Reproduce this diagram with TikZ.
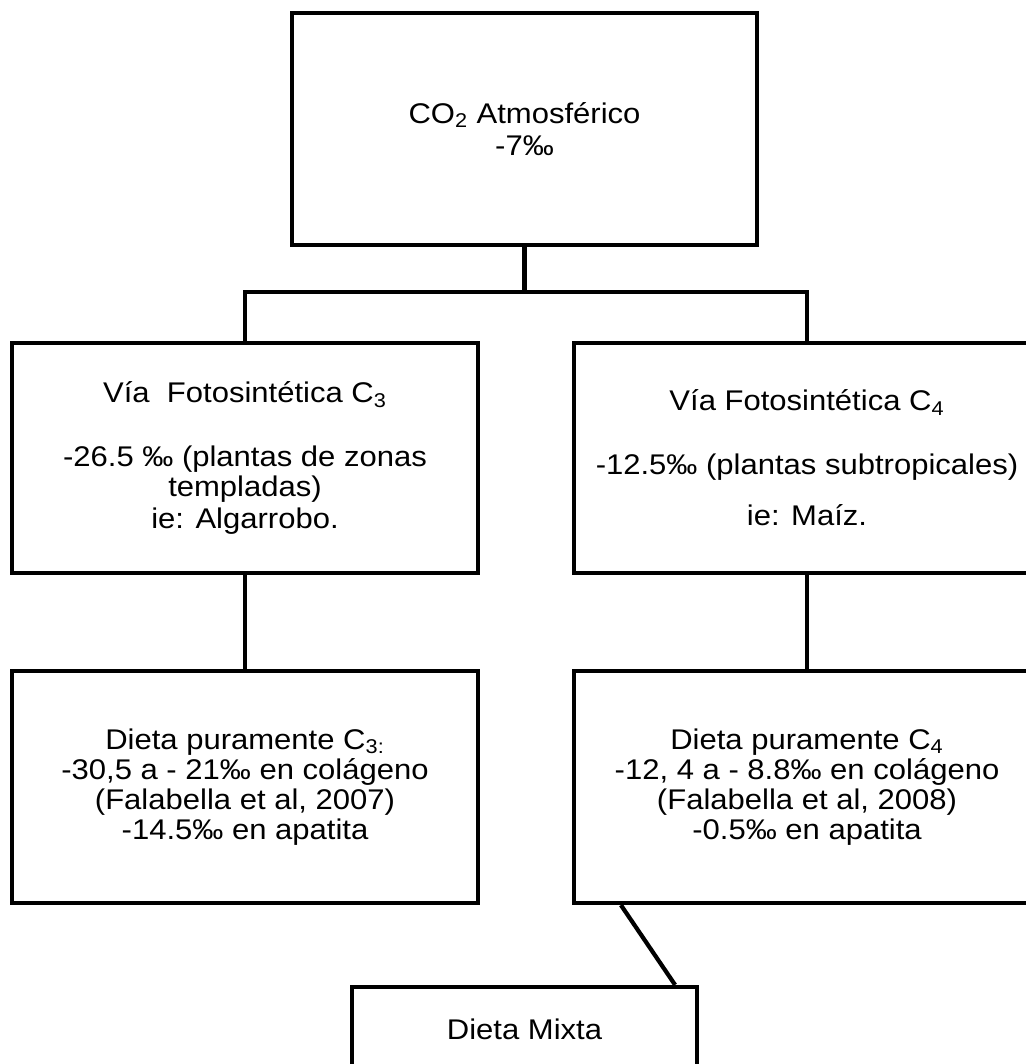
\documentclass[tikz,border=0pt]{standalone}
\usepackage{fontspec}
\setmainfont{Liberation Sans}[FakeStretch=1.09]
\tikzset{
    caja/.style={draw, line width=2.4pt, rectangle, align=center, inner sep=0pt,
        minimum width=9.32cm, font=\fontsize{16.2}{17.2}\selectfont},
    enlace/.style={line width=2.4pt}
}
\begin{document}
\begin{tikzpicture}[x=0.02cm, y=-0.02cm]
    \useasboundingbox (0,0) rectangle (1026,1064);
    \clip (0,0) rectangle (1026,1064);

    % cajas
    \node[caja, minimum width=9.3cm, minimum height=4.64cm] (co2) at (524.5,129)
        {CO\textsubscript{2} Atmosférico\\[1pt]-7‰};
    \node[caja, minimum height=4.6cm] (viaC3) at (245,458)
        {Vía\ \ Fotosintética C\textsubscript{3}\\[19pt]-26.5 ‰ (plantas de zonas\\templadas)\\[1pt]ie: Algarrobo.};
    \node[caja, minimum height=4.6cm] (viaC4) at (807,458)
        {Vía Fotosintética C\textsubscript{4}\\[19pt]-12.5‰ (plantas subtropicales)\\[12pt]ie: Maíz.};
    \node[caja, minimum height=4.64cm] (dietaC3) at (245,787)
        {Dieta puramente C\textsubscript{3:}\\-30,5 a - 21‰ en colágeno\\(Falabella et al, 2007)\\-14.5‰ en apatita};
    \node[caja, minimum height=4.64cm] (dietaC4) at (807,787)
        {Dieta puramente C\textsubscript{4}\\-12, 4 a - 8.8‰ en colágeno\\(Falabella et al, 2008)\\-0.5‰ en apatita};
    \node[caja, minimum width=6.9cm, minimum height=1.7cm] (mixta) at (524.5,1029.5)
        {Dieta Mixta};

    % enlaces
    \coordinate (rama) at (524.5,292);
    \draw[enlace] (co2.south) -- (rama);
    \draw[enlace] (viaC3.north) |- (rama) -| (viaC4.north);
    \draw[enlace] (viaC3.south) -- (dietaC3.north);
    \draw[enlace] (viaC4.south) -- (dietaC4.north);
    \draw[enlace] ([xshift=0.98cm]dietaC4.south west) -- ([xshift=-0.48cm]mixta.north east);
\end{tikzpicture}
\end{document}
